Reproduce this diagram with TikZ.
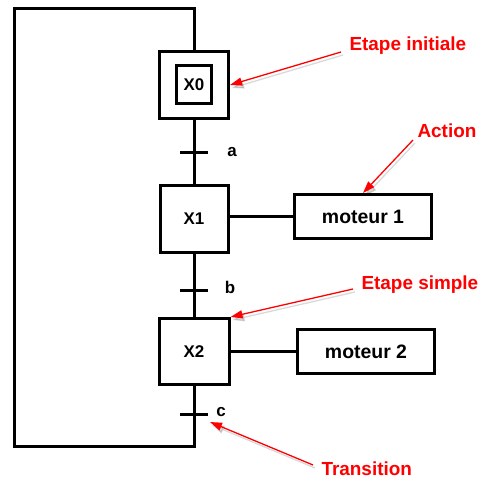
\documentclass[tikz,border=0pt]{standalone}
\usepackage{fontspec}
\setmainfont{Liberation Sans}
\usetikzlibrary{arrows.meta}

\begin{document}
\begin{tikzpicture}
  [x=1bp,y=-1bp,line width=3bp,
   every node/.style={font=\bfseries\fontsize{17}{17}\selectfont,inner sep=1bp},
   etape/.style={draw,minimum width=68bp,minimum height=67bp},
   action/.style={draw,minimum width=137bp,minimum height=44bp,
     font=\bfseries\fontsize{19.5}{19.5}\selectfont},
   note/.style={text=red,anchor=west,font=\bfseries\fontsize{19}{19}\selectfont},
   renvoi/.style={red,line width=1.3bp,-{Triangle[length=12bp,width=8bp]}}]
  \useasboundingbox (0,0) rectangle (480,481);

  % etapes
  \node[etape,minimum width=69bp] (X0) at (194,85) {};
  \node[draw,minimum width=35bp,minimum height=38bp] (X0i) at (194,84.5) {X0};
  \node[etape] (X1) at (194,219) {X1};
  \node[etape,minimum width=70bp,minimum height=66bp] (X2) at (194,351.5) {X2};

  % actions
  \node[action] (m1) at (363,216.5) {moteur 1};
  \node[action] (m2) at (366,351.5) {moteur 2};

  % transitions
  \coordinate (ta) at (194,153);
  \coordinate (tb) at (194,290);
  \coordinate (tc) at (194,414);
  \node (la) at (232,152) {a};
  \node (lb) at (230,287) {b};
  \node (lc) at (221,412) {c};

  \coordinate (bas) at (194,446);
  \coordinate (basg) at (14,446);
  \coordinate (hautg) at (14,9);
  \coordinate (haut) at (194,9);

  \draw (X0.south) -- (X1.north);
  \draw (X1.south) -- (X2.north);
  \draw[line join=miter] (X2.south) -- (bas) -- (basg) -- (hautg) -- (haut) -- (X0.north);
  \foreach \t in {ta,tb,tc}
    \draw ([xshift=-14bp]\t) -- ([xshift=14bp]\t);
  \draw (m1.west) -- (m1.west -| X1.east);
  \draw (m2.west) -- (m2.west -| X2.east);

  % renvois
  \foreach \nom/\px/\py/\txt in {EI/347/46/Etape initiale,Ac/415/131/Action,
      ES/359/285/Etape simple,Tr/319/469/Transition}
    \node[note] (n\nom) at (\px,\py) {\txt};
  \coordinate (qEI) at (341,52);
  \coordinate (qAc) at (413,140);
  \coordinate (qES) at (353,289);
  \coordinate (qTr) at (313,465);
  \coordinate (pTr) at (210,422);

  \foreach \from/\to in {qEI/X0.east,qAc/m1.north,qES/X2.north east,qTr/pTr}{
    \draw[renvoi,black,opacity=.15] ([xshift=2bp,yshift=-3bp]\from) -- ([xshift=2bp,yshift=-3bp]\to);
    \draw[renvoi] (\from) -- (\to);
  }

\end{tikzpicture}
\end{document}
